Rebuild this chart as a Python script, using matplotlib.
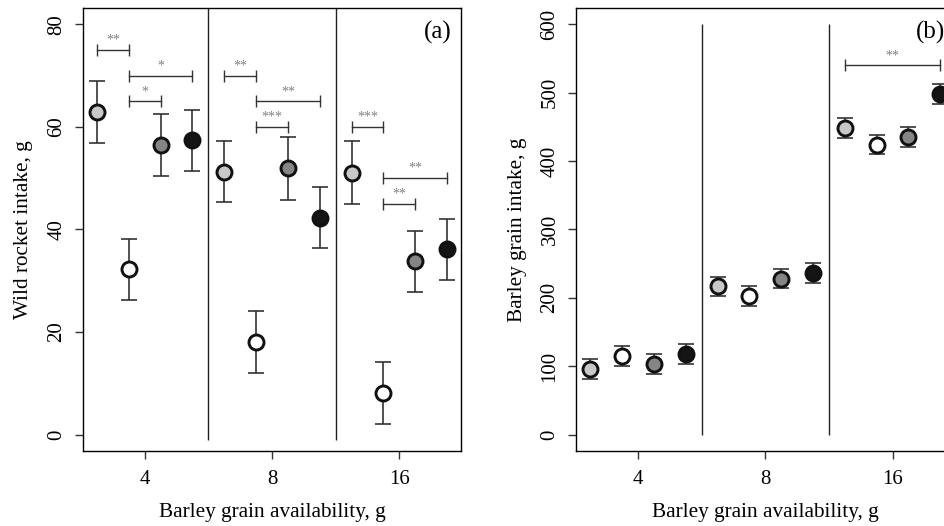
import numpy as np
import matplotlib.pyplot as plt

plt.rcParams['font.family'] = ['Liberation Serif', 'DejaVu Serif']

# barley availability groups (x tick labels)
groups = ['4', '8', '16']
# treatment fill colours within each group
fills = ['#c8c8c8', '#ffffff', '#858585', '#141414']

# panel (a): wild rocket intake, g  (4 treatments x 3 groups)
rocket_mean = [62.9, 32.2, 56.5, 57.4,
               51.3, 18.1, 51.9, 42.3,
               51.1, 8.1, 33.8, 36.1]
rocket_se = [6.1, 6.0, 6.0, 6.0,
             6.0, 6.0, 6.1, 6.0,
             6.1, 6.0, 6.0, 6.0]

# panel (b): barley grain intake, g
barley_mean = [96, 115, 103, 118,
               217, 203, 228, 236,
               449, 424, 435, 498]
barley_se = [14.5, 14.2, 14.4, 14.4,
             14.0, 14.2, 14.3, 14.4,
             14.6, 14.0, 14.2, 14.4]

# significance brackets: (first point index, last point index, height, stars)
rocket_sig = [(0, 1, 75, '**'), (1, 3, 70, '*'), (1, 2, 65, '*'),
              (4, 5, 70, '**'), (5, 7, 65, '**'), (5, 6, 60, '***'),
              (8, 9, 60, '***'), (9, 11, 50, '**'), (9, 10, 45, '**')]
barley_sig = [(8, 11, 540, '**')]

# x positions: 4 treatments spread around each group tick
offsets = np.array([-0.375, -0.125, 0.125, 0.375])
xpos = np.concatenate([g + 1 + offsets for g in range(len(groups))])


def draw_panel(ax, mean, se, sig, ylim, yticks, ylabel, tag, vline_lo, vline_hi):
    span = ylim[1] - ylim[0]
    ax.errorbar(xpos, mean, yerr=se, fmt='none', ecolor='#333333',
                elinewidth=1.2, capsize=6, capthick=1.2, zorder=2)
    for k in range(len(xpos)):
        ax.plot(xpos[k], mean[k], 'o', ms=10.8, mfc=fills[k % 4], mec='#111111',
                mew=2.1, zorder=3, clip_on=False)
    ax.vlines([1.5, 2.5], vline_lo, vline_hi, color='#222222', lw=1.0, zorder=1)
    cap = 0.0135 * span
    for i, j, y, s in sig:
        x1, x2 = xpos[i], xpos[j]
        ax.plot([x1, x2], [y, y], color='#333333', lw=1.0)
        ax.vlines([x1, x2], y - cap, y + cap, color='#333333', lw=1.0)
        ax.text((x1 + x2) / 2, y + 0.022 * span, s, ha='center', va='center',
                fontsize=10, color='#808080')
    ax.set_xlim(0.515, 3.485)
    ax.set_ylim(*ylim)
    ax.set_xticks([1, 2, 3])
    ax.set_xticklabels(groups)
    ax.set_yticks(yticks)
    ax.set_yticklabels([str(t) for t in yticks], rotation=90, va='center')
    ax.tick_params(labelsize=15, length=6, width=1.0, color='#333333')
    ax.tick_params(axis='x', pad=8)
    ax.tick_params(axis='y', pad=6)
    ax.set_xlabel('Barley grain availability, g', fontsize=15.3, labelpad=10)
    ax.set_ylabel(ylabel, fontsize=15.3, labelpad=10)
    for sp in ax.spines.values():
        sp.set_linewidth(1.0)
    ax.text(0.975, 0.945, tag, transform=ax.transAxes, ha='right', va='center',
            fontsize=18)


fig = plt.figure(figsize=(9.45, 5.26), dpi=100)
ax1 = fig.add_axes([0.0878, 0.1426, 0.4, 0.8422])
ax2 = fig.add_axes([0.6098, 0.1426, 0.4, 0.8422])

draw_panel(ax1, rocket_mean, rocket_se, rocket_sig, (-3.2, 83.2),
           [0, 20, 40, 60, 80], 'Wild rocket intake, g', '(a)', -1, 90)
draw_panel(ax2, barley_mean, barley_se, barley_sig, (-24, 624),
           [0, 100, 200, 300, 400, 500, 600], 'Barley grain intake, g', '(b)', 0, 600)

fig.savefig('out.png', dpi=100)
